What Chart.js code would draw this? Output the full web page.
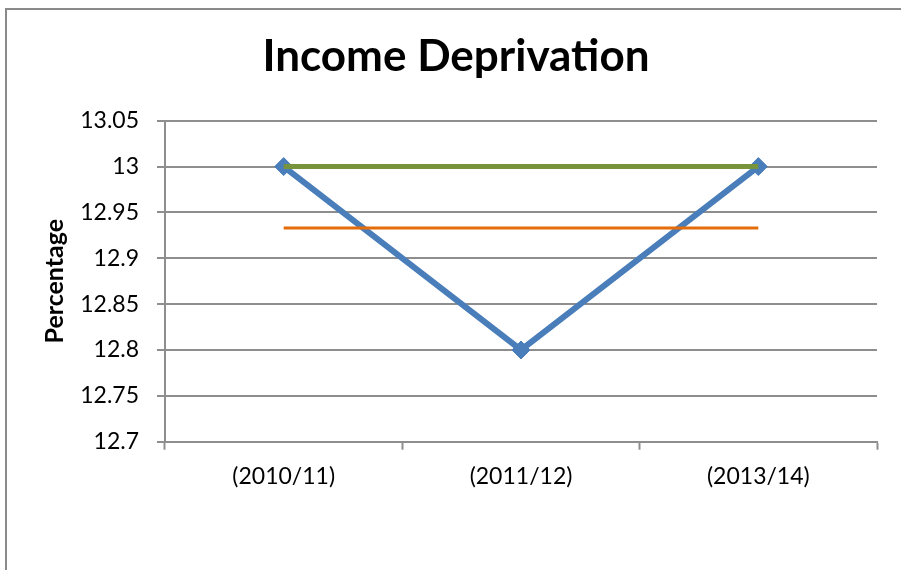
<!DOCTYPE html>
<html>
<head>
<meta charset="utf-8">
<title>Income Deprivation</title>
<script src="https://cdn.jsdelivr.net/npm/chart.js"></script>
<style>
    html, body { margin: 0; padding: 0; background: #ffffff; }
    #wrap { position: relative; width: 901px; height: 570px; }
</style>
</head>
<body>
<div id="wrap">
    <canvas id="income"></canvas>
</div>
<script>
    // periods along the x axis
    var periods = ['(2010/11)', '(2011/12)', '(2013/14)'];

    // percentage for each period
    var incomeValues = [13, 12.8, 13];
    // flat reference lines
    var maxValues = [13, 13, 13];
    var averageValues = [12.933, 12.933, 12.933];

    // y axis ticks
    var yTicks = [12.7, 12.75, 12.8, 12.85, 12.9, 12.95, 13, 13.05];

    var gridGrey = '#8e8e8e';
    var fontName = 'Lato';

    // draws the frame line round the chart
    var framePlugin = {
        id: 'frame',
        beforeDraw: function(chart) {
            var c = chart.ctx;
            c.save();
            c.strokeStyle = '#8a8a8a';
            c.lineWidth = 2;
            c.strokeRect(6, 9, 2000, 2000);
            c.restore();
        }
    };

    var ctx = document.getElementById('income').getContext('2d');

    var chart = new Chart(ctx, {
        // The type of chart we want to create
        type: 'line',

        // The data for our dataset
        data: {
            labels: periods,
            datasets: [{
                label: 'Maximum',
                data: maxValues,
                borderColor: '#77933c',
                backgroundColor: '#77933c',
                borderWidth: 5,
                pointRadius: 0,
                order: 0
            }, {
                label: 'Average',
                data: averageValues,
                borderColor: '#e46c0a',
                backgroundColor: '#e46c0a',
                borderWidth: 3,
                pointRadius: 0,
                order: 1
            }, {
                label: 'Income Deprivation',
                data: incomeValues,
                borderColor: '#4a7ebb',
                backgroundColor: '#4a7ebb',
                borderWidth: 6,
                pointStyle: 'rectRot',
                pointRadius: 9,
                pointBorderWidth: 1,
                pointBackgroundColor: '#4a7ebb',
                pointBorderColor: '#4a7ebb',
                order: 2
            }]
        },

        // Configuration options go here
        options: {
            responsive: true,
            maintainAspectRatio: false,
            animation: false,
            layout: {
                padding: { left: 35, right: 24, top: 0, bottom: 68.3 }
            },
            plugins: {
                legend: { display: false },
                tooltip: { enabled: false },
                title: {
                    display: true,
                    text: 'Income Deprivation',
                    color: '#000000',
                    font: { family: fontName, size: 44, weight: 'bold', lineHeight: 1.2 },
                    padding: { top: 30.6, bottom: 37.3 }
                }
            },
            scales: {
                x: {
                    offset: true,
                    grid: {
                        offset: true,
                        drawOnChartArea: false,
                        drawTicks: true,
                        tickLength: 8,
                        tickColor: gridGrey,
                        tickWidth: 2,
                        color: gridGrey
                    },
                    border: { display: true, color: gridGrey, width: 2 },
                    ticks: {
                        color: '#000000',
                        padding: 13,
                        maxRotation: 0,
                        font: { family: fontName, size: 23 }
                    },
                    afterFit: function(scale) {
                        scale.height = 60;
                    }
                },
                y: {
                    min: 12.7,
                    max: 13.05,
                    afterBuildTicks: function(scale) {
                        scale.ticks = yTicks.map(function(v) { return { value: v }; });
                    },
                    grid: {
                        color: gridGrey,
                        lineWidth: 2,
                        drawTicks: true,
                        tickLength: 8,
                        tickColor: gridGrey,
                        tickWidth: 2
                    },
                    border: { display: true, color: gridGrey, width: 2 },
                    ticks: {
                        color: '#000000',
                        padding: 18,
                        font: { family: fontName, size: 23 },
                        callback: function(value) {
                            return String(+value.toFixed(2));
                        }
                    },
                    title: {
                        display: true,
                        text: 'Percentage',
                        color: '#000000',
                        font: { family: fontName, size: 25, weight: 'bold', lineHeight: 1.2 },
                        padding: { top: 4.5, bottom: 0 }
                    },
                    afterFit: function(scale) {
                        scale.width = 130;
                    }
                }
            }
        },
        plugins: [framePlugin]
    });
</script>
</body>
</html>
